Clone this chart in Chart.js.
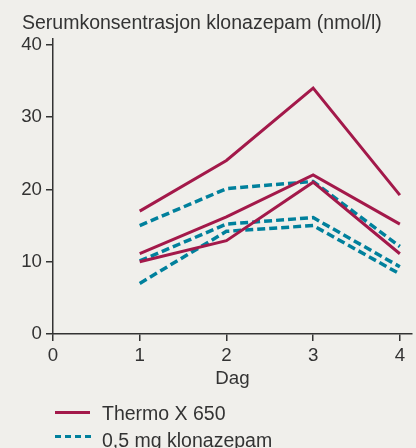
<!DOCTYPE html>
<html><head><meta charset="utf-8">
<script src="https://cdn.jsdelivr.net/npm/chart.js@4"></script>
<style>
html,body{margin:0;padding:0;background:#f0efeb;}
#wrap{position:relative;width:416px;height:448px;font-family:"Liberation Sans",Arial,sans-serif;color:#333;}
#title{position:absolute;left:22px;top:12px;font-size:19.5px;line-height:20px;white-space:nowrap;}
canvas{position:absolute;left:0;top:0;}
.lt{position:absolute;left:102px;font-size:19.5px;line-height:20px;white-space:nowrap;}
.sw{position:absolute;left:55px;width:35px;height:0;}
</style></head>
<body><div id="wrap">
<canvas id="c" width="416" height="448"></canvas>
<div id="title">Serumkonsentrasjon klonazepam (nmol/l)</div>
<span class="sw" style="top:411px;border-top:3px solid #a3194a"></span>
<div class="lt" style="top:403px">Thermo X 650</div>
<span class="sw" style="top:435px;width:36px;border-top:3.5px dashed #00809c"></span>
<div class="lt" style="top:430px">0,5 mg klonazepam</div>
</div>
<script>
const days = [1, 2, 3, 4];
const xTicks = [0, 1, 2, 3, 4];
const yTicks = [0, 10, 20, 30, 40];
const thermoA = [17, 24, 34, 19.2];
const thermoB = [11.1, 16.2, 22, 15.2];
const thermoC = [10, 12.9, 21, 11.1];
const tabA = [15, 20.1, 21.1, 12.1];
const tabB = [10.1, 15.2, 16.1, 9.3];
const tabC = [7, 14.2, 15, 8.3];
const red = '#a3194a', blue = '#00809c';
function pts(arr){ return arr.map((v,i)=>({x:days[i], y:v})); }
function ds(arr, color, dashed){
  return {data: pts(arr), borderColor: color, borderWidth: dashed?3.5:3,
    borderDash: dashed?[8,4]:[], pointRadius:0, fill:false, tension:0};
}
const font = {family:'"Liberation Sans", Arial, sans-serif', size:18.7};
new Chart(document.getElementById('c'), {
  type:'line',
  data:{datasets:[ds(thermoA,red,false),ds(thermoB,red,false),ds(thermoC,red,false),
    ds(tabA,blue,true),ds(tabB,blue,true),ds(tabC,blue,true)]},
  options:{
    responsive:false, animation:false,
    layout:{padding:{left:0,right:4,top:39,bottom:58}},
    plugins:{legend:{display:false},tooltip:{enabled:false}},
    scales:{
      x:{type:'linear', min:0, max:4.14,
        afterBuildTicks:s=>{s.ticks=xTicks.map(v=>({value:v}));},
        afterFit:s=>{s.height=56;},
        grid:{drawOnChartArea:false, drawTicks:true, tickLength:7, color:'#333', lineWidth:1.5},
        border:{color:'#333', width:1.5},
        ticks:{font:font, color:'#333', padding:4, maxRotation:0},
        title:{display:true, text:'Dag', font:font, color:'#333', padding:0}
      },
      y:{type:'linear', min:0, max:40.8,
        afterBuildTicks:s=>{s.ticks=yTicks.map(v=>({value:v}));},
        afterFit:s=>{s.width=53;},
        grid:{drawOnChartArea:false, drawTicks:true, tickLength:7, color:'#333', lineWidth:1.5},
        border:{color:'#333', width:1.5},
        ticks:{font:font, color:'#333', padding:4}
      }
    }
  }
});
</script>
</body></html>
